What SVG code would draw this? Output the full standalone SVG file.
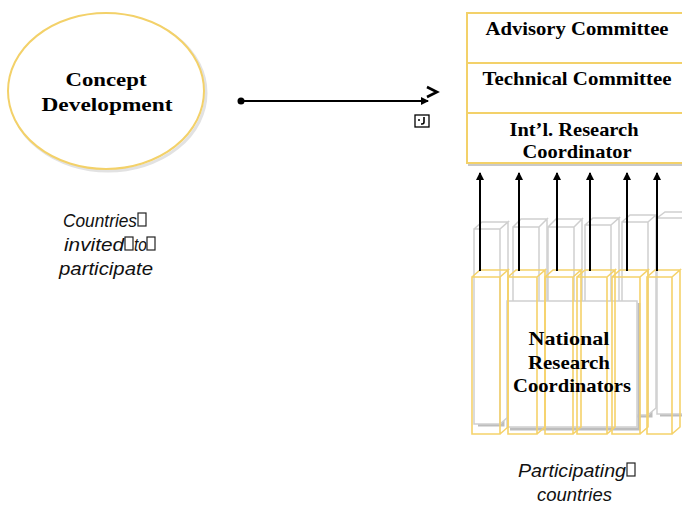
<svg xmlns="http://www.w3.org/2000/svg" width="682" height="505" viewBox="0 0 682 505">
<defs>
<style>
.ttl{font-family:"Liberation Serif","DejaVu Serif",serif;font-weight:bold;font-size:19px;fill:#000;text-anchor:middle}
.it{font-family:"Liberation Sans",Arial,sans-serif;font-style:italic;font-size:19px;fill:#111}
.box{fill:#fff;stroke:#f3d169;stroke-width:2}
.sh{fill:none;stroke:#c9c9c9;stroke-width:2}
.gy{fill:#fff;stroke:#cfcfcf;stroke-width:1.5}
.gys{fill:none;stroke:#bdbdbd;stroke-width:3}
.yl{fill:none;stroke:#f5d26a;stroke-width:1.6}
.con{stroke:#000;stroke-width:2;fill:none}
.tofu{fill:none;stroke:#222;stroke-width:1.2}
</style>
<marker id="ah" markerWidth="8" markerHeight="8" refX="7" refY="4" orient="auto" markerUnits="userSpaceOnUse">
<path d="M0,0 L8,4 L0,8 z" fill="#000"/>
</marker>
</defs>

<g id="concept">
<ellipse cx="108" cy="93" rx="98" ry="78" fill="none" stroke="#e2e2e2" stroke-width="3"/>
<ellipse cx="106" cy="91" rx="98" ry="78" fill="#fff" stroke="#f3d169" stroke-width="2"/>
<text class="ttl" x="106" y="86" textLength="81" lengthAdjust="spacingAndGlyphs">Concept</text>
<text class="ttl" x="107" y="111" textLength="131" lengthAdjust="spacingAndGlyphs">Development</text>
</g>

<g id="invited">
<text class="it" x="63" y="227" textLength="74" lengthAdjust="spacingAndGlyphs">Countries</text>
<rect class="tofu" x="138" y="213" width="8" height="13"/>
<text class="it" x="64" y="251" textLength="60" lengthAdjust="spacingAndGlyphs">invited</text>
<rect class="tofu" x="125" y="237" width="8" height="13"/>
<text class="it" x="134" y="251" textLength="13" lengthAdjust="spacingAndGlyphs">to</text>
<rect class="tofu" x="147" y="237" width="8" height="13"/>
<text class="it" x="59" y="275" textLength="94" lengthAdjust="spacingAndGlyphs">participate</text>
</g>

<g id="advisory">
<rect x="469" y="15" width="230" height="50" class="sh"/>
<rect x="467" y="13" width="230" height="50" class="box"/>
<text class="ttl" x="577" y="35" textLength="183" lengthAdjust="spacingAndGlyphs">Advisory Committee</text>
</g>
<g id="technical">
<rect x="469" y="65" width="230" height="50" class="sh"/>
<rect x="467" y="63" width="230" height="50" class="box"/>
<text class="ttl" x="577" y="85" textLength="189" lengthAdjust="spacingAndGlyphs">Technical Committee</text>
</g>
<g id="intl">
<rect x="469" y="115" width="230" height="50" class="sh"/>
<rect x="467" y="113" width="230" height="50" class="box"/>
<text class="ttl" x="574" y="136" textLength="129" lengthAdjust="spacingAndGlyphs">Int’l. Research</text>
<text class="ttl" x="577" y="158" textLength="109" lengthAdjust="spacingAndGlyphs">Coordinator</text>
</g>

<g id="national">
<g>
<path class="gys" d="M503,230 V425 H478"/>
<path class="gy" d="M474,229 h26 v195 h-26 z M474,229 l8,-7 h26 l-8,7 M500,229 l8,-7 v195 l-8,7"/>
<path class="gys" d="M541,228 V424 H516"/>
<path class="gy" d="M513,227 h26 v196 h-26 z M513,227 l8,-8 h26 l-8,8 M539,227 l8,-8 v196 l-8,8"/>
<path class="gys" d="M576,228 V424 H551"/>
<path class="gy" d="M548,227 h26 v196 h-26 z M548,227 l8,-8 h26 l-8,8 M574,227 l8,-8 v196 l-8,8"/>
<path class="gys" d="M614,226 V419 H588"/>
<path class="gy" d="M585,225 h26 v193 h-26 z M585,225 l8,-7 h26 l-8,7 M611,225 l8,-7 v193 l-8,7"/>
<path class="gys" d="M651,223 V416 H625"/>
<path class="gy" d="M622,222 h26 v193 h-26 z M622,222 l8,-7 h26 l-8,7 M648,222 l8,-7 v193 l-8,7"/>
<path class="gys" d="M686,219 V415 H660"/>
<path class="gy" d="M657,218 h26 v196 h-26 z M657,218 l8,-6 h26 l-8,6"/>
<path class="gys" d="M639,303 V429 H510"/>
<rect x="507" y="301" width="130" height="126" class="gy"/>
</g>
<g>
<path class="yl" d="M472,277 h28 v157 h-28 z M472,277 l8,-7 h28 l-8,7 M500,277 l8,-7 v157 l-8,7"/>
<path class="yl" d="M508,277 h29 v157 h-29 z M508,277 l8,-7 h29 l-8,7 M537,277 l8,-7 v157 l-8,7"/>
<path class="yl" d="M545,277 h28 v157 h-28 z M545,277 l8,-7 h28 l-8,7 M573,277 l8,-7 v157 l-8,7"/>
<path class="yl" d="M577,277 h30 v157 h-30 z M577,277 l8,-7 h30 l-8,7 M607,277 l8,-7 v157 l-8,7"/>
<path class="yl" d="M612,277 h28 v157 h-28 z M612,277 l8,-7 h28 l-8,7 M640,277 l8,-7 v157 l-8,7"/>
<path class="yl" d="M647,277 h25 v157 h-25 z M647,277 l8,-7 h25 l-8,7 M672,277 l8,-7 v157 l-8,7"/>
</g>
<text class="ttl" x="569" y="345" textLength="81" lengthAdjust="spacingAndGlyphs">National</text>
<text class="ttl" x="569" y="369" textLength="82" lengthAdjust="spacingAndGlyphs">Research</text>
<text class="ttl" x="572" y="392" textLength="118" lengthAdjust="spacingAndGlyphs">Coordinators</text>
</g>

<g id="participating">
<text class="it" x="518" y="477" textLength="108" lengthAdjust="spacingAndGlyphs">Participating</text>
<rect class="tofu" x="627" y="463" width="8" height="13"/>
<text class="it" x="537" y="501" textLength="75" lengthAdjust="spacingAndGlyphs">countries</text>
</g>

<g id="connectors">
<circle cx="241" cy="101" r="3.5" fill="#000"/>
<line class="con" x1="241" y1="101" x2="428" y2="101" marker-end="url(#ah)"/>
<path d="M427,87 L437,92 L427,97" fill="none" stroke="#000" stroke-width="2.6"/>
<rect x="415" y="115" width="14" height="12" fill="none" stroke="#000" stroke-width="1.3"/>
<circle cx="419" cy="120" r="1" fill="#000"/>
<path d="M424,117 v5 q0,2 -2,2 h-1" fill="none" stroke="#000" stroke-width="1.6"/>
<line class="con" x1="480" y1="271" x2="480" y2="173" marker-end="url(#ah)"/>
<line class="con" x1="519" y1="271" x2="519" y2="173" marker-end="url(#ah)"/>
<line class="con" x1="557" y1="271" x2="557" y2="173" marker-end="url(#ah)"/>
<line class="con" x1="590" y1="271" x2="590" y2="173" marker-end="url(#ah)"/>
<line class="con" x1="627" y1="271" x2="627" y2="173" marker-end="url(#ah)"/>
<line class="con" x1="657" y1="271" x2="657" y2="173" marker-end="url(#ah)"/>
</g>
</svg>
